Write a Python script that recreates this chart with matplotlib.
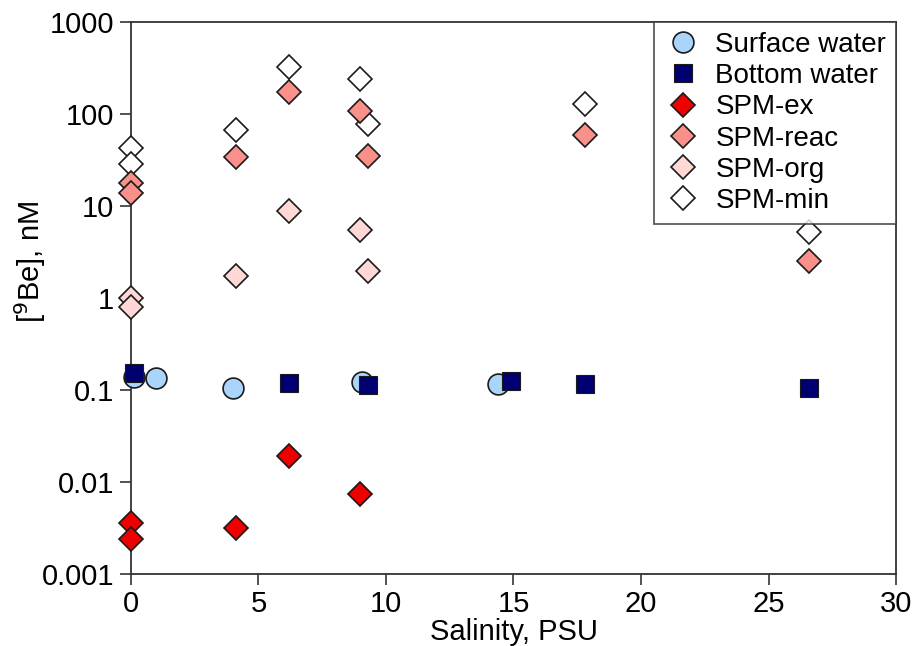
import matplotlib
matplotlib.use("Agg")
import matplotlib.pyplot as plt
from matplotlib.ticker import FixedLocator, FixedFormatter, NullLocator

plt.rcParams['font.family'] = ['Liberation Sans', 'DejaVu Sans']

# Data (salinity PSU, [9Be] nM)
surf_x = [0.1, 1.0, 4.0, 9.05, 14.4]
surf_y = [0.138, 0.135, 0.105, 0.122, 0.116]

bot_x = [0.1, 6.2, 9.3, 14.9, 17.8, 26.6]
bot_y = [0.153, 0.119, 0.113, 0.125, 0.116, 0.105]

ex_x = [0.0, 0.0, 4.1, 6.2, 9.0]
ex_y = [0.0036, 0.0024, 0.0032, 0.0192, 0.0074]

reac_x = [0.0, 0.0, 4.1, 6.2, 9.0, 9.3, 17.8, 26.6]
reac_y = [17.8, 13.8, 34, 173, 108, 35, 59, 2.5]

org_x = [0.0, 0.0, 4.1, 6.2, 9.0, 9.3]
org_y = [1.0, 0.80, 1.73, 8.8, 5.5, 1.96]

min_x = [0.0, 0.0, 4.1, 6.2, 9.0, 9.3, 17.8, 26.6]
min_y = [43, 29, 67, 325, 240, 78, 128, 5.2]

yticks = [0.001, 0.01, 0.1, 1, 10, 100, 1000]
ytick_labels = ['0.001', '0.01', '0.1', '1', '10', '100', '1000']
xticks = [0, 5, 10, 15, 20, 25, 30]

fig = plt.figure(figsize=(9.19, 6.46), dpi=100)
ax = fig.add_axes([0.1425, 0.111, 0.8325, 0.855])

ec = '#1a1a1a'
kw = dict(ls='none', clip_on=False)
ax.plot(min_x, min_y, 'D', ms=12.5, mfc='white', mec=ec, mew=1.2, label='SPM-min', zorder=3, **kw)
ax.plot(org_x, org_y, 'D', ms=12.5, mfc='#FFD8D6', mec=ec, mew=1.2, label='SPM-org', zorder=3, **kw)
ax.plot(reac_x, reac_y, 'D', ms=12.5, mfc='#FA908A', mec=ec, mew=1.2, label='SPM-reac', zorder=3, **kw)
ax.plot(ex_x, ex_y, 'D', ms=12.5, mfc='#EE0000', mec=ec, mew=1.2, label='SPM-ex', zorder=3, **kw)
ax.plot(surf_x, surf_y, 'o', ms=15, mfc='#AAD4FA', mec=ec, mew=1.2, label='Surface water', zorder=3, **kw)
ax.plot(bot_x, bot_y, 's', ms=13.5, mfc='#000070', mec=ec, mew=0.8, label='Bottom water', zorder=4, **kw)

ax.set_yscale('log')
ax.set_ylim(0.001, 1000)
ax.set_xlim(0, 30)
ax.yaxis.set_major_locator(FixedLocator(yticks))
ax.yaxis.set_major_formatter(FixedFormatter(ytick_labels))
ax.yaxis.set_minor_locator(NullLocator())
ax.set_xticks(xticks)

ax.tick_params(axis='both', direction='out', length=8, width=1.2, labelsize=21, color='#333333')
ax.tick_params(axis='x', pad=3)
ax.tick_params(axis='y', pad=4)
for s in ax.spines.values():
    s.set_linewidth(1.3)
    s.set_color('#333333')

ax.set_xlabel('Salinity, PSU', fontsize=21, labelpad=0)
ax.set_ylabel(r'[$^{9}$Be], nM', fontsize=21)
ax.yaxis.set_label_coords(-0.108, 0.565)

h, l = ax.get_legend_handles_labels()
order = ['Surface water', 'Bottom water', 'SPM-ex', 'SPM-reac', 'SPM-org', 'SPM-min']
hh = [h[l.index(o)] for o in order]
leg = ax.legend(hh, order, loc='upper right', borderaxespad=0, fancybox=False,
                fontsize=20, frameon=True, edgecolor='#333333', handletextpad=0.45,
                labelspacing=0.19, borderpad=0.35, handlelength=1.4)
leg.get_frame().set_linewidth(1.3)

fig.savefig('out.png', dpi=100)
